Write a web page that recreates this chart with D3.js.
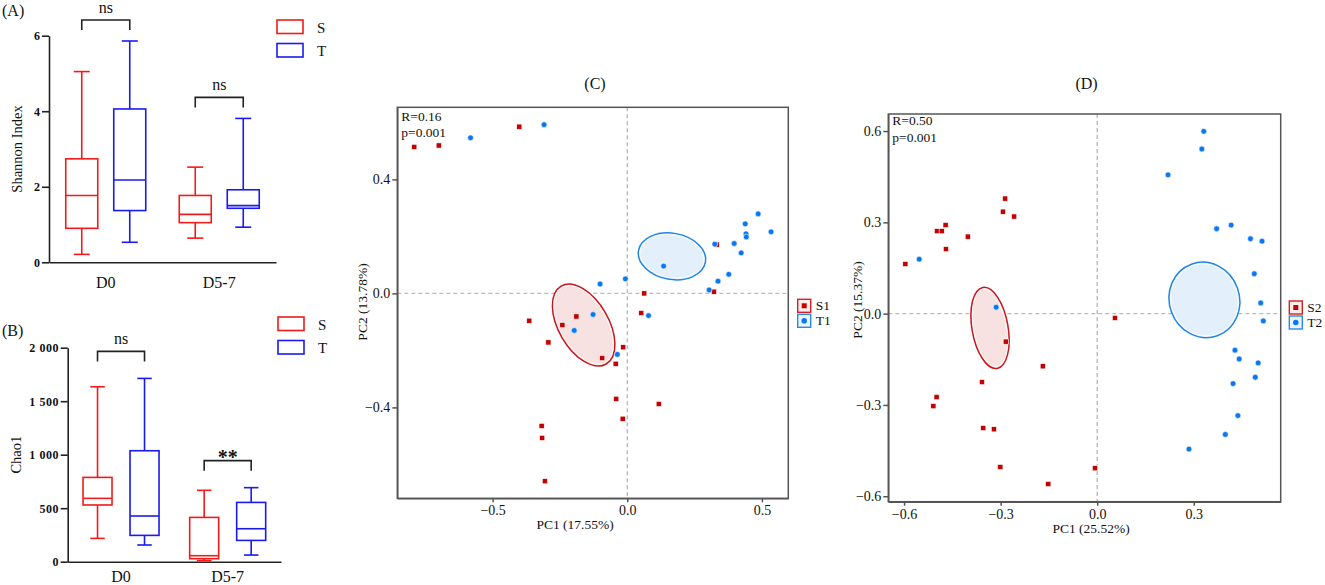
<!DOCTYPE html>
<html>
<head>
<meta charset="utf-8">
<script src="https://cdn.jsdelivr.net/npm/d3@7"></script>
<style>
  body { margin: 0; background: #fff; }
  svg text { font-family: "Liberation Serif", "Times New Roman", serif; fill: #111; }
</style>
</head>
<body>
<div id="charts"></div>
<script>
// Box plot stats for each group, in order [min, q1, median, q3, max]
var groups = ['D0', 'D5-7'];
var series = ['S', 'T'];

var shannon_S = [[0.21, 0.90, 1.77, 2.74, 5.05], [0.64, 1.05, 1.27, 1.77, 2.52]];
var shannon_T = [[0.53, 1.37, 2.18, 4.06, 5.86], [0.93, 1.43, 1.50, 1.92, 3.81]];
var shannon_ticks = [0, 2, 4, 6];
var shannon_sig = ['ns', 'ns'];

var chao1_S = [[218, 530, 592, 788, 1635], [10, 28, 56, 414, 667]];
var chao1_T = [[156, 246, 427, 1037, 1713], [62, 199, 308, 554, 692]];
var chao1_ticks = [0, 500, 1000, 1500, 2000];
var chao1_sig = ['ns', '**'];

// PCoA coordinates [PC1, PC2]
var pcoaC_S1 = [[-0.791, 0.514], [-0.700, 0.519], [-0.401, 0.585], [0.332, 0.171], [0.322, 0.006],
  [0.063, 0.000], [0.052, -0.069], [-0.189, -0.081], [-0.241, -0.111], [-0.364, -0.096],
  [-0.293, -0.172], [-0.015, -0.189], [-0.093, -0.227], [-0.043, -0.247], [-0.041, -0.370],
  [0.117, -0.388], [-0.017, -0.440], [-0.318, -0.465], [-0.316, -0.507], [-0.306, -0.659]];
var pcoaC_T1 = [[-0.582, 0.546], [-0.309, 0.592], [0.486, 0.279], [0.438, 0.244], [0.534, 0.216],
  [0.441, 0.209], [0.442, 0.198], [0.325, 0.173], [0.397, 0.175], [0.423, 0.142],
  [0.135, 0.096], [0.377, 0.067], [0.337, 0.043], [-0.007, 0.051], [-0.101, 0.033],
  [0.304, 0.012], [0.079, -0.078], [-0.127, -0.074], [-0.197, -0.130], [-0.037, -0.214]];
var pcoaD_S2 = [[-0.596, 0.163], [-0.498, 0.271], [-0.483, 0.271], [-0.471, 0.291], [-0.470, 0.212],
  [-0.402, 0.253], [-0.286, 0.378], [-0.293, 0.335], [-0.258, 0.319], [-0.284, -0.092],
  [0.055, -0.014], [-0.169, -0.173], [-0.358, -0.225], [-0.499, -0.274], [-0.509, -0.304],
  [-0.354, -0.376], [-0.321, -0.380], [-0.301, -0.504], [-0.007, -0.508], [-0.152, -0.560]];
var pcoaD_T2 = [[-0.553, 0.179], [-0.314, 0.021], [0.331, 0.599], [0.325, 0.541], [0.220, 0.456],
  [0.371, 0.279], [0.416, 0.291], [0.476, 0.246], [0.512, 0.238], [0.488, 0.131],
  [0.508, 0.035], [0.516, -0.024], [0.428, -0.120], [0.441, -0.149], [0.500, -0.162],
  [0.491, -0.209], [0.422, -0.230], [0.437, -0.335], [0.398, -0.397], [0.285, -0.445]];

// confidence ellipses: centre, radii (data units), tilt in degrees
var ellipseC_S1 = {cx: -0.162, cy: -0.111, rx: 0.093, ry: 0.158, angle: -30};
var ellipseC_T1 = {cx: 0.166, cy: 0.130, rx: 0.126, ry: 0.081, angle: 10};
var ellipseD_S2 = {cx: -0.333, cy: -0.047, rx: 0.056, ry: 0.135, angle: -10};
var ellipseD_T2 = {cx: 0.333, cy: 0.045, rx: 0.109, ry: 0.125, angle: -20};

var pcoaC_xticks = [-0.5, 0, 0.5];
var pcoaC_yticks = [-0.4, 0, 0.4];
var pcoaD_xticks = [-0.6, -0.3, 0, 0.3];
var pcoaD_yticks = [-0.6, -0.3, 0, 0.3, 0.6];

var boxColors = {S: '#f21a1a', T: '#1a1af2'};
var ptRed = '#c40000', ptBlue = '#0a78f0';

var svg = d3.select('div#charts')
  .append('svg')
  .attr('width', 1325)
  .attr('height', 585);

var spaceLocale = d3.formatLocale({decimal: '.', thousands: ' ', grouping: [3], currency: ['', '']});

function drawBoxPanel(p) {
  var x = d3.scaleBand().domain(groups).range([p.left, p.right]);
  var inner = d3.scalePoint().domain(series).range([-p.spread, p.spread]);
  var y = d3.scaleLinear().domain([0, p.ticks[p.ticks.length - 1]]).range([p.bottom, p.top]);
  var g = svg.append('g');

  var yAxis = g.append('g')
    .attr('transform', 'translate(' + p.left + ',0)')
    .call(d3.axisLeft(y).tickValues(p.ticks).tickFormat(p.format).tickSize(7).tickSizeOuter(0).tickPadding(1.5));
  yAxis.selectAll('path, line').attr('stroke', '#222').attr('stroke-width', 1.6);
  yAxis.selectAll('text').attr('font-size', '12px').attr('font-weight', 'bold')
    .attr('letter-spacing', '0.6px')
    .attr('font-family', '"Liberation Serif", serif');

  var xAxis = g.append('g')
    .attr('transform', 'translate(0,' + p.bottom + ')')
    .call(d3.axisBottom(x).tickSize(0).tickSizeOuter(0).tickPadding(p.xPad));
  xAxis.select('path').attr('stroke', '#222').attr('stroke-width', 1.6);
  xAxis.selectAll('text').attr('font-size', '16px').attr('font-family', '"Liberation Serif", serif');

  var rows = [];
  groups.forEach(function(grp, i) {
    series.forEach(function(s) {
      rows.push({group: grp, series: s, v: p.stats[s][i]});
    });
  });

  var boxes = g.selectAll('g.box')
    .data(rows)
    .enter()
    .append('g')
    .attr('transform', function(d) {
      return 'translate(' + (x(d.group) + x.bandwidth() / 2 + inner(d.series)) + ',0)';
    })
    .attr('stroke', function(d) { return boxColors[d.series]; })
    .attr('stroke-width', 1.6)
    .attr('fill', 'none');

  var hw = p.boxWidth / 2, cw = p.boxWidth / 4;
  // whiskers
  boxes.append('line').attr('x1', 0).attr('x2', 0)
    .attr('y1', function(d) { return y(d.v[3]); }).attr('y2', function(d) { return y(d.v[4]); });
  boxes.append('line').attr('x1', 0).attr('x2', 0)
    .attr('y1', function(d) { return y(d.v[1]); }).attr('y2', function(d) { return y(d.v[0]); });
  boxes.append('line').attr('x1', -cw).attr('x2', cw)
    .attr('y1', function(d) { return y(d.v[4]); }).attr('y2', function(d) { return y(d.v[4]); });
  boxes.append('line').attr('x1', -cw).attr('x2', cw)
    .attr('y1', function(d) { return y(d.v[0]); }).attr('y2', function(d) { return y(d.v[0]); });
  boxes.append('rect')
    .attr('x', -hw).attr('width', p.boxWidth)
    .attr('y', function(d) { return y(d.v[3]); })
    .attr('height', function(d) { return y(d.v[1]) - y(d.v[3]); })
    .attr('fill', '#fff');
  boxes.append('line').attr('x1', -hw).attr('x2', hw)
    .attr('y1', function(d) { return y(d.v[2]); }).attr('y2', function(d) { return y(d.v[2]); });

  // significance brackets
  groups.forEach(function(grp, i) {
    var cx = x(grp) + x.bandwidth() / 2;
    var top = y(Math.max(p.stats.S[i][4], p.stats.T[i][4])) - p.gap;
    var x1 = cx + inner('S'), x2 = cx + inner('T');
    g.append('path')
      .attr('d', 'M' + x1 + ',' + (top + 10) + 'V' + top + 'H' + x2 + 'V' + (top + 10))
      .attr('fill', 'none').attr('stroke', '#222').attr('stroke-width', 1.6);
    var star = p.sig[i] != 'ns';
    g.append('text')
      .attr('x', cx).attr('y', star ? top + 3 : top - 7)
      .attr('text-anchor', 'middle')
      .attr('font-size', star ? '20px' : '16px')
      .attr('font-weight', star ? 'bold' : 'normal')
      .text(p.sig[i]);
  });

  g.append('text')
    .attr('transform', 'translate(' + p.labelX + ',' + ((p.top + p.bottom) / 2) + ') rotate(-90)')
    .attr('text-anchor', 'middle')
    .attr('font-size', '14.5px')
    .text(p.yLabel);

  g.append('text').attr('x', 2).attr('y', p.titleY).attr('font-size', '16px').text(p.title);

  // legend
  series.forEach(function(s, i) {
    g.append('rect')
      .attr('x', p.legendX).attr('y', p.legendY + i * 23.5)
      .attr('width', 26).attr('height', 13.5)
      .attr('fill', 'none').attr('stroke', boxColors[s]).attr('stroke-width', 1.6);
    g.append('text')
      .attr('x', p.legendX + 40).attr('y', p.legendY + i * 23.5 + 12.5)
      .attr('font-size', '15px').text(s);
  });
}

function drawPcoaPanel(p) {
  var x = d3.scaleLinear().domain(p.xDomain).range([p.left, p.right]);
  var y = d3.scaleLinear().domain(p.yDomain).range([p.bottom, p.top]);
  var g = svg.append('g');

  // dashed zero lines
  g.append('line').attr('x1', x(0)).attr('x2', x(0)).attr('y1', p.top).attr('y2', p.bottom)
    .attr('stroke', '#bbb').attr('stroke-width', 1.4).attr('stroke-dasharray', '4,3');
  g.append('line').attr('x1', p.left).attr('x2', p.right).attr('y1', y(0)).attr('y2', y(0))
    .attr('stroke', '#bbb').attr('stroke-width', 1.4).attr('stroke-dasharray', '4,3');

  // ellipses
  p.ellipses.forEach(function(e) {
    var cx = x(e.el.cx), cy = y(e.el.cy);
    var rx = x(e.el.cx + e.el.rx) - cx, ry = cy - y(e.el.cy + e.el.ry);
    var eg = g.append('g').attr('transform', 'translate(' + cx + ',' + cy + ') rotate(' + e.el.angle + ')');
    eg.append('ellipse').attr('rx', rx).attr('ry', ry)
      .attr('fill', e.fill).attr('stroke', e.stroke).attr('stroke-width', 1.5);
    eg.append('ellipse').attr('rx', rx - 1.6).attr('ry', ry - 1.6)
      .attr('fill', 'none').attr('stroke', '#fff').attr('stroke-width', 0.8);
  });

  // points: red squares first, then blue dots on top
  g.selectAll('rect.sq')
    .data(p.red)
    .enter()
    .append('rect')
    .attr('x', function(d) { return x(d[0]) - 2.6; })
    .attr('y', function(d) { return y(d[1]) - 2.6; })
    .attr('width', 5.2).attr('height', 5.2)
    .attr('fill', ptRed).attr('stroke', '#fff').attr('stroke-width', 0.6);
  g.selectAll('circle.pt')
    .data(p.blue)
    .enter()
    .append('circle')
    .attr('cx', function(d) { return x(d[0]); })
    .attr('cy', function(d) { return y(d[1]); })
    .attr('r', 2.9)
    .attr('fill', ptBlue).attr('stroke', '#fff').attr('stroke-width', 0.6);

  // frame
  g.append('rect')
    .attr('x', p.left).attr('y', p.top)
    .attr('width', p.right - p.left).attr('height', p.bottom - p.top)
    .attr('fill', 'none').attr('stroke', '#555').attr('stroke-width', 1.5);

  var fmt = d3.format('.1f');
  var xa = g.append('g').attr('transform', 'translate(0,' + p.bottom + ')')
    .call(d3.axisBottom(x).tickValues(p.xticks).tickFormat(fmt).tickSize(4).tickSizeOuter(0).tickPadding(3));
  var ya = g.append('g').attr('transform', 'translate(' + p.left + ',0)')
    .call(d3.axisLeft(y).tickValues(p.yticks).tickFormat(fmt).tickSize(5).tickSizeOuter(0).tickPadding(2));
  [xa, ya].forEach(function(a) {
    a.selectAll('path, line').attr('stroke', '#555').attr('stroke-width', 1.5);
    a.selectAll('text').attr('font-size', '14px').attr('font-family', '"Liberation Serif", serif').attr('fill', '#111');
  });

  g.append('text').attr('x', p.xLabelX).attr('y', p.bottom + 31)
    .attr('text-anchor', 'middle').attr('font-size', '13.5px').text(p.xLabel);
  g.append('text')
    .attr('transform', 'translate(' + p.yLabelX + ',' + p.yLabelY + ') rotate(-90)')
    .attr('text-anchor', 'middle').attr('font-size', '13.5px').text(p.yLabel);
  g.append('text').attr('x', p.titleX).attr('y', 89)
    .attr('text-anchor', 'middle').attr('font-size', '16px').text(p.title);
  g.append('text').attr('x', p.left + 4).attr('y', p.top + p.statY)
    .attr('font-size', '13.5px').text(p.stats[0]);
  g.append('text').attr('x', p.left + 4).attr('y', p.top + p.statY + 16.5)
    .attr('font-size', '13.5px').text(p.stats[1]);

  // legend
  p.legend.forEach(function(l, i) {
    var ly = p.legendY + i * 15;
    g.append('rect').attr('x', p.legendX).attr('y', ly).attr('width', 13).attr('height', 13)
      .attr('fill', l.fill).attr('stroke', l.stroke).attr('stroke-width', 1.4);
    if (l.shape == 'square') {
      g.append('rect').attr('x', p.legendX + 4).attr('y', ly + 4).attr('width', 5).attr('height', 5)
        .attr('fill', ptRed);
    } else {
      g.append('circle').attr('cx', p.legendX + 6.5).attr('cy', ly + 6.5).attr('r', 2.8)
        .attr('fill', ptBlue);
    }
    g.append('text').attr('x', p.legendX + 18).attr('y', ly + 11)
      .attr('font-size', '13.5px').text(l.label);
  });
}

drawBoxPanel({
  stats: {S: shannon_S, T: shannon_T}, ticks: shannon_ticks, sig: shannon_sig,
  format: d3.format('d'),
  left: 49, right: 276, top: 35.7, bottom: 262.3, spread: 24, boxWidth: 32, gap: 21, xPad: 14,
  yLabel: 'Shannon Index', labelX: 22, title: '(A)', titleY: 16,
  legendX: 277, legendY: 20
});

drawBoxPanel({
  stats: {S: chao1_S, T: chao1_T}, ticks: chao1_ticks, sig: chao1_sig,
  format: spaceLocale.format(','),
  left: 67.7, right: 281, top: 347.7, bottom: 561.7, spread: 23.5, boxWidth: 29, gap: 27, xPad: 9,
  yLabel: 'Chao1', labelX: 21, title: '(B)', titleY: 336,
  legendX: 278, legendY: 317
});

drawPcoaPanel({
  red: pcoaC_S1, blue: pcoaC_T1,
  xDomain: [-0.854, 0.598], yDomain: [-0.719, 0.653],
  left: 397.3, right: 788.3, top: 107.3, bottom: 498.3,
  xticks: pcoaC_xticks, yticks: pcoaC_yticks,
  ellipses: [
    {el: ellipseC_T1, fill: '#e3f0fb', stroke: '#1f86e6'},
    {el: ellipseC_S1, fill: '#f8e1e1', stroke: '#c8161d'}
  ],
  xLabel: 'PC1 (17.55%)', xLabelX: 575, yLabel: 'PC2 (13.78%)', yLabelX: 367, yLabelY: 302,
  title: '(C)', titleX: 595, stats: ['R=0.16', 'p=0.001'], statY: 13.5,
  legendX: 797.7, legendY: 299.3,
  legend: [
    {label: 'S1', shape: 'square', fill: '#fdeeee', stroke: '#d42020'},
    {label: 'T1', shape: 'circle', fill: '#eaf4fd', stroke: '#2a8ae6'}
  ]
});

drawPcoaPanel({
  red: pcoaD_S2, blue: pcoaD_T2,
  xDomain: [-0.649, 0.570], yDomain: [-0.618, 0.656],
  left: 888.3, right: 1280.7, top: 114, bottom: 501.7,
  xticks: pcoaD_xticks, yticks: pcoaD_yticks,
  ellipses: [
    {el: ellipseD_T2, fill: '#e3f0fb', stroke: '#1f86e6'},
    {el: ellipseD_S2, fill: '#f8e1e1', stroke: '#c8161d'}
  ],
  xLabel: 'PC1 (25.52%)', xLabelX: 1091, yLabel: 'PC2 (15.37%)', yLabelX: 862, yLabelY: 300,
  title: '(D)', titleX: 1086.5, stats: ['R=0.50', 'p=0.001'], statY: 11,
  legendX: 1289.3, legendY: 301,
  legend: [
    {label: 'S2', shape: 'square', fill: '#fdeeee', stroke: '#d42020'},
    {label: 'T2', shape: 'circle', fill: '#eaf4fd', stroke: '#2a8ae6'}
  ]
});
</script>
</body>
</html>
